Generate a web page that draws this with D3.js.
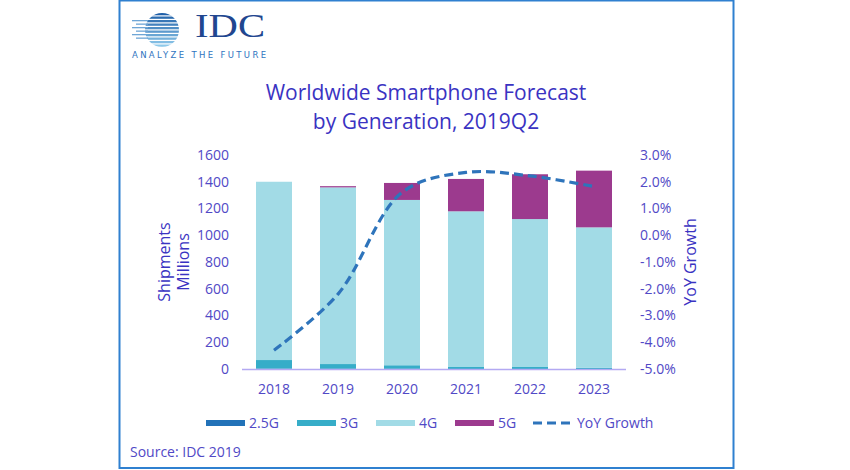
<!DOCTYPE html>
<html><head><meta charset="utf-8">
<script src="https://cdn.jsdelivr.net/npm/d3@7"></script>
<style>body{margin:0;background:#fff}svg{display:block}</style>
</head><body>
<svg id="c" width="850" height="470"></svg>
<script>
const years = ["2018","2019","2020","2021","2022","2023"];
const g25 = [2, 1, 1, 0, 0, 0];
const g3 = [65, 36, 27, 15, 15, 10];
const g4 = [1333, 1321, 1236, 1164, 1106, 1049];
const g5 = [0, 9, 127, 242, 335, 424];
const yoy = [-4.3, -2.2, 1.6, 2.35, 2.22, 1.82];
const leftTicks = [0,200,400,600,800,1000,1200,1400,1600];
const rightTicks = [-5,-4,-3,-2,-1,0,1,2,3];
const seriesNames = ["2.5G","3G","4G","5G"];
const colors = ["#2272b8","#36adc8","#a2dbe6","#9c3a8e"];

const svg = d3.select("#c");
const font = "'Open Sans', sans-serif";
const txt = "#3a33c2";
const tick = "#5149c6";

// frame
svg.append("rect").attr("x",119.5).attr("y",0.5).attr("width",614).attr("height",467.5)
  .attr("fill","none").attr("stroke","#2f80d0").attr("stroke-width",2);

// logo
const logo = svg.append("g");
const cx=162, cy=30, r=17;
logo.append("clipPath").attr("id","lc").append("circle").attr("cx",cx).attr("cy",cy).attr("r",r);
const stripes = d3.range(0,10);
logo.selectAll("rect.s").data(stripes).enter().append("rect")
  .attr("x",cx-r).attr("width",2*r).attr("y",d=>cy-r+d*3.5).attr("height",2.3)
  .attr("fill",d=>d3.interpolateRgb("#1f5fa8","#8ec9ea")(d/9)).attr("clip-path","url(#lc)");
logo.selectAll("rect.l").data([2,3,4,5,6,7]).enter().append("rect")
  .attr("x",d=>132+(d%2)*4).attr("width",d=>16-(d%2)*4).attr("y",d=>cy-r+d*3.5).attr("height",1.3)
  .attr("fill","#6fa6d6");
logo.append("text").attr("x",195).attr("y",37).attr("font-family","'Liberation Serif', serif")
  .attr("font-size",33).attr("textLength",70).attr("lengthAdjust","spacingAndGlyphs")
  .attr("fill","#21468f").text("IDC");
logo.append("text").attr("x",132).attr("y",58).attr("font-family","'DejaVu Sans', sans-serif")
  .attr("font-size",8.5).attr("textLength",134).attr("lengthAdjust","spacing").attr("fill","#2f74c0").text("ANALYZE THE FUTURE");

// title
svg.append("text").attr("x",426).attr("y",100).attr("text-anchor","middle").attr("font-family",font)
  .attr("font-size",21).attr("fill",txt).text("Worldwide Smartphone Forecast");
svg.append("text").attr("x",426).attr("y",129).attr("text-anchor","middle").attr("font-family",font)
  .attr("font-size",21).attr("fill",txt).text("by Generation, 2019Q2");

const x = d3.scaleBand().domain(years).range([242,626]).paddingInner(0.4375).paddingOuter(0.21875);
const y = d3.scaleLinear().domain([0,1600]).range([369,155]);
const y2 = d3.scaleLinear().domain([-5,3]).range([369,155]);

const rows = years.map((yr,i)=>({year:yr,"2.5G":g25[i],"3G":g3[i],"4G":g4[i],"5G":g5[i]}));
const stack = d3.stack().keys(seriesNames)(rows);
svg.append("g").selectAll("g").data(stack).enter().append("g").attr("fill",(d,i)=>colors[i])
  .selectAll("rect").data(d=>d).enter().append("rect")
  .attr("x",d=>x(d.data.year)).attr("width",x.bandwidth())
  .attr("y",d=>y(d[1])).attr("height",d=>Math.max(0,y(d[0])-y(d[1])));

// baseline
svg.append("line").attr("x1",242).attr("x2",626).attr("y1",369.5).attr("y2",369.5)
  .attr("stroke","#b3a9f2").attr("stroke-width",1.3);

// axes
const la = svg.append("g").attr("transform","translate(229,0)")
  .call(d3.axisLeft(y).tickValues(leftTicks).tickSize(0).tickPadding(0).tickFormat(d3.format("d")));
const ra = svg.append("g").attr("transform","translate(640,0)")
  .call(d3.axisRight(y2).tickValues(rightTicks).tickSize(0).tickPadding(0).tickFormat(d=>d.toFixed(1)+"%"));
const xa = svg.append("g").attr("transform","translate(0,378)")
  .call(d3.axisBottom(x).tickSize(0).tickPadding(6));
[la,ra,xa].forEach(a=>{a.select(".domain").remove();
  a.selectAll("text").attr("font-family",font).attr("font-size",14).attr("fill",tick);});

// line
const line = d3.line().x((d,i)=>x(years[i])+x.bandwidth()/2).y(d=>y2(d)).curve(d3.curveCatmullRom.alpha(0.5));
svg.append("path").datum(yoy).attr("d",line).attr("fill","none").attr("stroke","#2e74bb")
  .attr("stroke-width",3.2).attr("stroke-dasharray","9,5");

// axis titles
svg.append("text").attr("transform","translate(170,262) rotate(-90)").attr("text-anchor","middle")
  .attr("font-family",font).attr("font-size",16).attr("fill",txt).text("Shipments");
svg.append("text").attr("transform","translate(189,262) rotate(-90)").attr("text-anchor","middle")
  .attr("font-family",font).attr("font-size",16).attr("fill",txt).text("Millions");
svg.append("text").attr("transform","translate(696,262) rotate(-90)").attr("text-anchor","middle")
  .attr("font-family",font).attr("font-size",16).attr("fill",txt).text("YoY Growth");

// legend
const lx = [206,297,376,455];
const leg = svg.append("g");
seriesNames.forEach((n,i)=>{
  leg.append("rect").attr("x",lx[i]).attr("y",420).attr("width",39).attr("height",6).attr("fill",colors[i]);
  leg.append("text").attr("x",lx[i]+43).attr("y",428).attr("font-family",font).attr("font-size",14)
    .attr("fill",tick).text(n);
});
leg.append("line").attr("x1",533).attr("x2",573).attr("y1",423).attr("y2",423).attr("stroke","#2e74bb")
  .attr("stroke-width",3.2).attr("stroke-dasharray","9,5");
leg.append("text").attr("x",577).attr("y",428).attr("font-family",font).attr("font-size",14)
  .attr("fill",tick).text("YoY Growth");

svg.append("text").attr("x",130).attr("y",457).attr("font-family",font).attr("font-size",14)
  .attr("fill",tick).text("Source: IDC 2019");
</script>
</body></html>
